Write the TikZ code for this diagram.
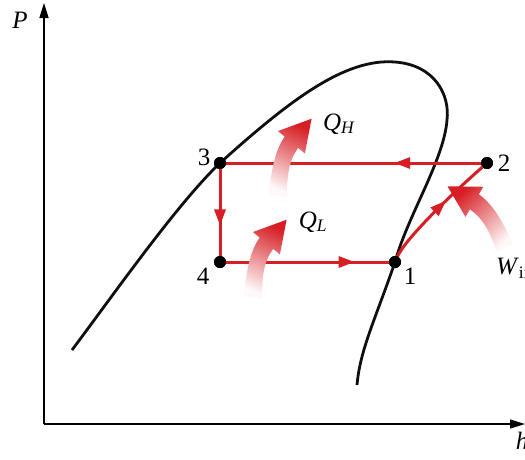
\documentclass[tikz,border=0pt]{standalone}
\usepackage{fontspec}
\setmainfont{Liberation Serif}
\usetikzlibrary{positioning, arrows.meta, decorations.markings}
\definecolor{cyclecolor}{RGB}{214, 30, 36}
\definecolor{curvecolor}{RGB}{15, 15, 15}

\begin{document}
\begin{tikzpicture}[
    x=1pt, y=-1pt,
    dot/.style={circle, fill=black, inner sep=0pt, minimum size=12pt},
    annot/.style={font=\fontsize{25}{29}\selectfont, inner sep=1pt},
    dome/.style={curvecolor, line width=2.8pt},
    axis/.style={-{Triangle[length=15pt, width=9pt]}, line width=1.4pt},
    cycle line/.style={cyclecolor, line width=3pt},
    mid arrow/.style={postaction={decorate, decoration={markings,
        mark=at position #1 with {\arrow{Triangle[length=16pt, width=11pt]}}}}},
    heat arrow/.pic={
        \shade[top color=cyclecolor, middle color=cyclecolor!75, bottom color=cyclecolor!3, shading angle=#1]
            (-8,-1) .. controls (-6,-25) and (-2,-42) .. (6,-53) -- (0,-58)
            -- (30,-69) -- (24,-38) -- (18,-43)
            .. controls (10,-32) and (8,-20) .. (8,1) -- cycle;
    },
]
\useasboundingbox (0,0) rectangle (525,459);

% ======= AXES =======
\coordinate (O) at (44,424);
\coordinate (P-end) at (44,3);
\coordinate (h-end) at (525,424);
\draw[axis] (O) -- (P-end);
\draw[axis] (O) -- (h-end);
\node[annot, font=\fontsize{25}{29}\selectfont\itshape] (P-lbl) at (20,20) {P};
\node[annot, font=\fontsize{25}{29}\selectfont\itshape] (h-lbl) at (522,441) {h};

% ======= STATES =======
\node[dot] (p1) at (395,262) {};
\node[dot] (p2) at (487,163) {};
\node[dot] (p3) at (220,163) {};
\node[dot] (p4) at (220,262) {};

% ======= SATURATION DOME =======
\draw[dome] (72,350) .. controls (114,294) and (177,204) .. (p3.center)
    .. controls (290,100) and (345,58) .. (395,62)
    .. controls (435,65) and (450,95) .. (447,120)
    .. controls (444,160) and (408,215) .. (p1.center)
    .. controls (375,320) and (360,350) .. (357,385);

% ======= CYCLE =======
\draw[cycle line, mid arrow=0.34] (p2) -- (p3);
\draw[cycle line, mid arrow=0.65] (p3) -- (p4);
\draw[cycle line, mid arrow=0.79] (p4) -- (p1);
\draw[cycle line, mid arrow=0.6] (p1) .. controls (405,240) and (445,200) .. (p2);

% ======= HEAT AND WORK =======
\pic[scale=1.12] at (278,196) {heat arrow=-23};
\pic[scale=1.12] at (253,297) {heat arrow=-23};
\pic[rotate=19.5, xscale=-1, scale=1.12] at (505,248) {heat arrow=43};

% redraw dots on top
\foreach \i in {1,...,4} {
    \node[dot] at (p\i) {};
}

% ======= LABELS =======
\node[annot] (l1) at ([xshift=15pt, yshift=-14pt]p1) {1};
\node[annot] (l2) at ([xshift=17pt]p2) {2};
\node[annot] (l3) at ([xshift=-16pt, yshift=6pt]p3) {3};
\node[annot] (l4) at ([xshift=-17pt, yshift=-14pt]p4) {4};
\node[annot] (QH) at (339,124) {\textit{Q}\textsubscript{\textit{H}}};
\node[annot] (QL) at (313,222) {\textit{Q}\textsubscript{\textit{L}}};
\node[annot, anchor=west] (Win) at (495,268) {\textit{W}\textsubscript{in}};

\end{tikzpicture}
\end{document}
